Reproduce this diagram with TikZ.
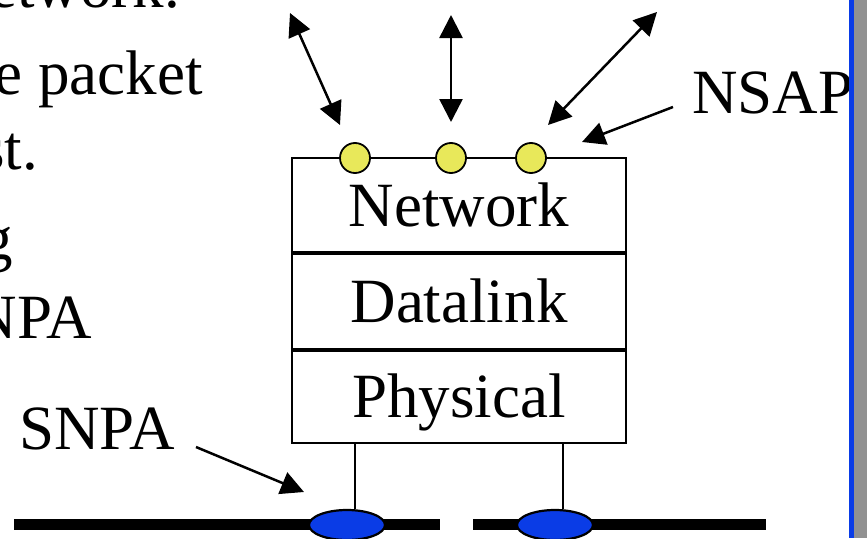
\documentclass[tikz,border=0pt]{standalone}
\usepackage{fontspec}
\setmainfont{Liberation Serif}
\usetikzlibrary{arrows.meta,shapes.geometric}
\definecolor{dotyellow}{RGB}{232,232,90}
\definecolor{apblue}{RGB}{10,60,230}
\definecolor{barblue}{RGB}{10,60,230}
\definecolor{bargray}{RGB}{145,145,145}
\begin{document}
\begin{tikzpicture}[x=1pt,y=-1pt,
  big/.style={font=\fontsize{63}{70}\selectfont, inner sep=0pt},
  layer/.style={draw, line width=2.2pt, minimum width=334pt, text height=43pt, text depth=0pt,
     font=\fontsize{63}{70}\selectfont, inner sep=0pt},
  dot/.style={circle, draw, fill=dotyellow, line width=1.8pt, minimum size=30pt, inner sep=0pt},
  bigtip/.tip={Triangle[length=23pt,width=23pt]},
  onearrow/.style={-bigtip, line width=2.5pt},
  twoarrow/.style={bigtip-bigtip, line width=2.5pt},
  sap/.style={ellipse, draw, fill=apblue, line width=2.2pt, minimum width=76pt, minimum height=30pt, inner sep=0pt},
  wire/.style={line width=1.8pt},
  bus/.style={line width=11pt}]
\useasboundingbox (0,0) rectangle (867,538);

% left text fragments
\node[big, anchor=base east] (t1) at (180,8) {etwork.};
\node[big, anchor=base east] (t2) at (203,94) {e packet};
\node[big, anchor=base east] (t3) at (38,169) {st.};
\node[big, anchor=base east] (t4) at (13,259) {g};
\node[big, anchor=base east] (t5) at (92,338) {NPA};

% buses
\draw[bus] (14,524.5) coordinate (b1a) -- (440,524.5) coordinate (b1b);
\draw[bus] (473,524.5) coordinate (b2a) -- (766,524.5) coordinate (b2b);

% layers
\node[layer, minimum height=94pt] (net) at (459,205) {Network};
\node[layer, minimum height=97pt] (dl) at (459,300.5) {Datalink};
\node[layer, minimum height=94pt] (ph) at (459,396) {Physical};
\draw[line width=4.5pt] (net.south west) -- (net.south east);
\draw[line width=4.5pt] (dl.south west) -- (dl.south east);

% SAP ellipses and wires
\node[sap] (e1) at (347,525) {};
\node[sap] (e2) at (555,525) {};
\draw[wire] ([xshift=-104pt]ph.south) -- ([xshift=8pt]e1.north);
\draw[wire] ([xshift=104pt]ph.south) -- ([xshift=8pt]e2.north);

% NSAP dots
\node[dot] (d1) at (355,158) {};
\node[dot] (d2) at (451,158) {};
\node[dot] (d3) at (531,158) {};

% arrows
\coordinate (a1s) at (290,13);  \coordinate (a1e) at (340,125);
\coordinate (a2s) at (451,15);  \coordinate (a2e) at (451,122);
\coordinate (a3s) at (657,12);  \coordinate (a3e) at (548,125);
\draw[twoarrow] (a1s) -- (a1e);
\draw[twoarrow] (a2s) -- (a2e);
\draw[twoarrow] (a3s) -- (a3e);

% labels
\node[big, anchor=base west] (nsap) at (692,113) {NSAP};
\coordinate (n1) at (673,107); \coordinate (n2) at (582,142);
\draw[onearrow] (n1) -- (n2);

\node[big, anchor=base west] (snpa) at (19,449) {SNPA};
\coordinate (s1) at (196,447); \coordinate (s2) at (304,492);
\draw[onearrow] (s1) -- (s2);

% right edge bars
\fill[barblue] (849,0) rectangle (854,538);
\fill[bargray] (854,0) rectangle (867,538);
\end{tikzpicture}
\end{document}
